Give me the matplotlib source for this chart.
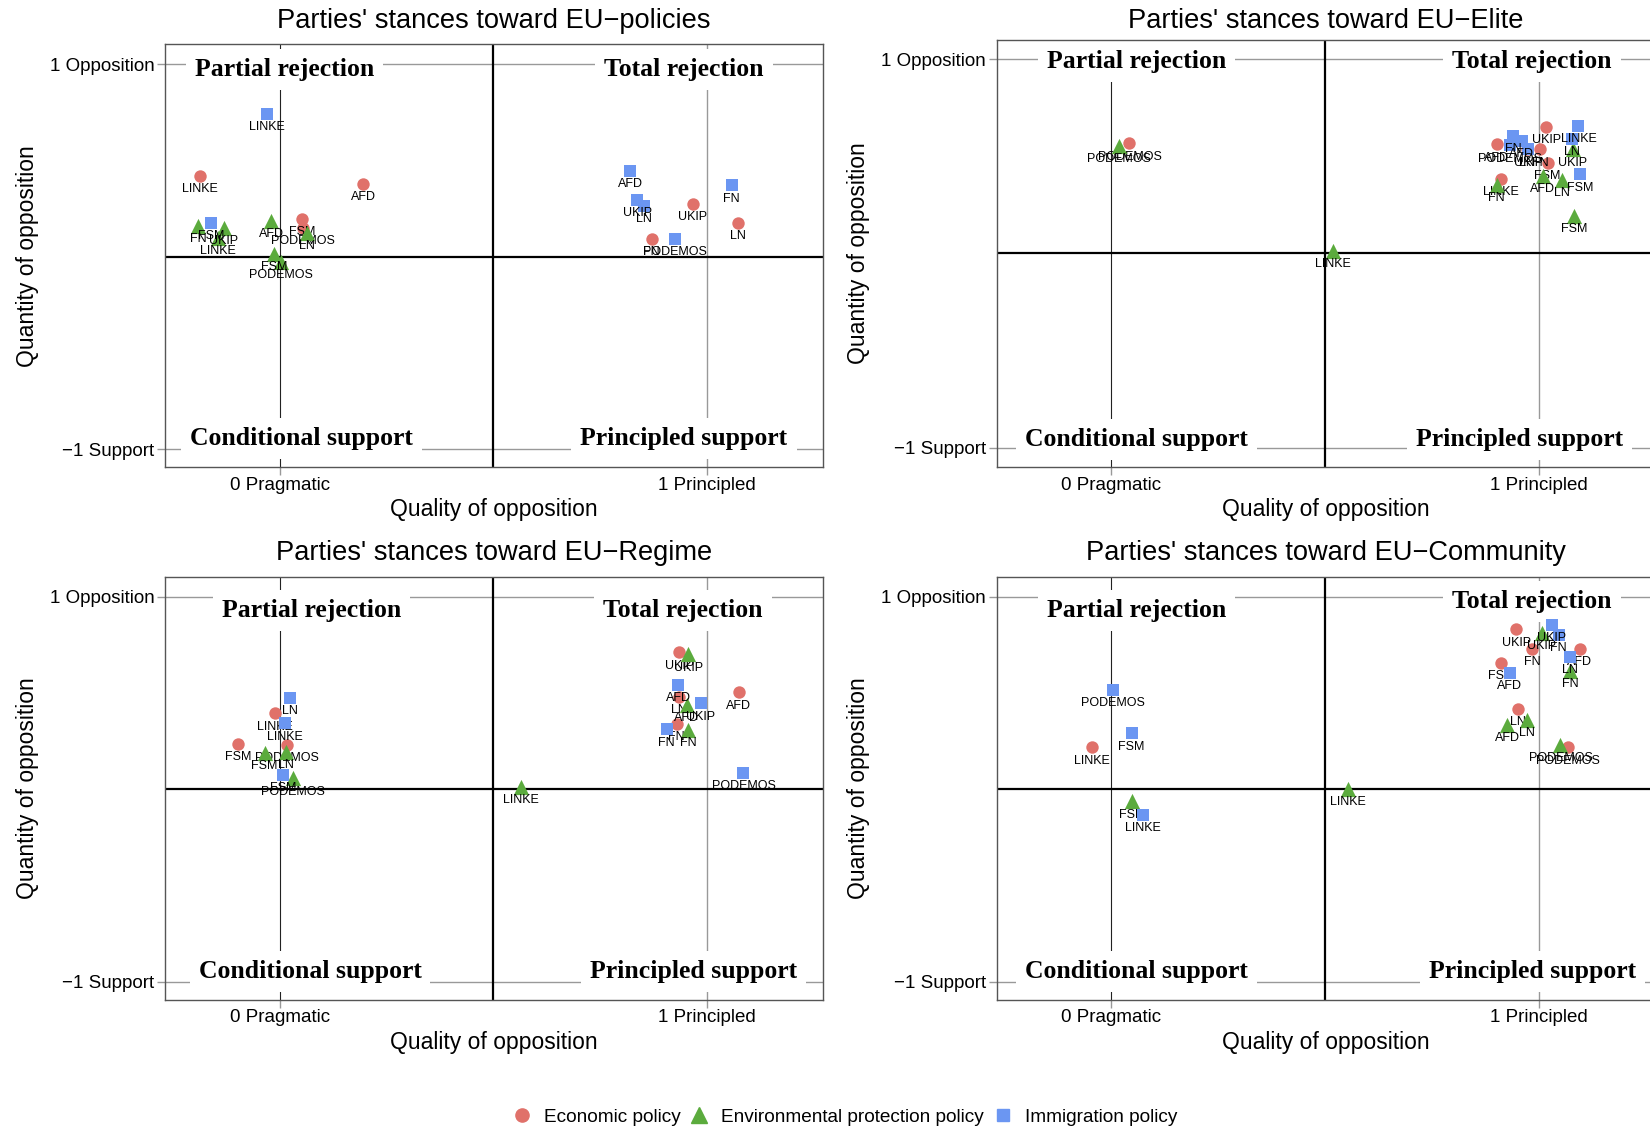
import matplotlib
matplotlib.use('Agg')
import matplotlib.pyplot as plt
from matplotlib.lines import Line2D

plt.rcParams['font.family'] = ['Liberation Sans', 'DejaVu Sans']

# party order used by every series below
parties = ['AFD', 'FN', 'FSM', 'LINKE', 'LN', 'PODEMOS', 'UKIP']

# EU-policies
policies_econ_x = [0.196, 0.870, 0.053, -0.187, 1.072, 0.055, 0.966]
policies_econ_y = [0.377, 0.093, 0.195, 0.420, 0.176, 0.148, 0.273]
policies_env_x = [-0.019, -0.191, -0.013, -0.144, 0.063, 0.003, -0.130]
policies_env_y = [0.187, 0.160, 0.014, 0.096, 0.122, -0.025, 0.148]
policies_imm_x = [0.820, 1.057, -0.160, -0.030, 0.852, 0.924, 0.837]
policies_imm_y = [0.444, 0.371, 0.174, 0.743, 0.263, 0.092, 0.294]

# EU-Elite
elite_econ_x = [0.902, 1.004, 1.021, 0.911, 0.972, 0.043, 1.018]
elite_econ_y = [0.561, 0.535, 0.466, 0.385, 0.535, 0.566, 0.652]
elite_env_x = [1.010, 0.902, 1.083, 0.518, 1.054, 0.019, 1.080]
elite_env_y = [0.397, 0.354, 0.194, 0.012, 0.380, 0.553, 0.535]
elite_imm_x = [0.961, 0.941, 1.097, 1.093, 1.078, 0.933, 0.976]
elite_imm_y = [0.578, 0.603, 0.406, 0.655, 0.590, 0.556, 0.535]

# EU-Regime
regime_econ_x = [1.074, 0.929, -0.097, -0.011, 0.935, 0.017, 0.935]
regime_econ_y = [0.503, 0.337, 0.235, 0.394, 0.480, 0.229, 0.711]
regime_env_x = [0.952, 0.956, -0.035, 0.565, 0.014, 0.032, 0.956]
regime_env_y = [0.437, 0.310, 0.190, 0.010, 0.195, 0.056, 0.700]
regime_imm_x = [0.933, 0.905, 0.008, 0.012, 0.024, 1.085, 0.985]
regime_imm_y = [0.541, 0.311, 0.074, 0.342, 0.475, 0.083, 0.446]

# EU-Community
community_econ_x = [1.096, 0.985, 0.912, -0.045, 0.951, 1.068, 0.948]
community_econ_y = [0.727, 0.727, 0.657, 0.217, 0.415, 0.217, 0.830]
community_env_x = [0.926, 1.073, 0.050, 0.554, 0.973, 1.051, 1.008]
community_env_y = [0.335, 0.616, -0.064, 0.000, 0.361, 0.230, 0.810]
community_imm_x = [0.932, 1.047, 0.048, 0.075, 1.073, 0.004, 1.031]
community_imm_y = [0.605, 0.800, 0.290, -0.134, 0.689, 0.517, 0.853]

titles = ["Parties' stances toward EU\u2212policies", "Parties' stances toward EU\u2212Elite",
          "Parties' stances toward EU\u2212Regime", "Parties' stances toward EU\u2212Community"]
series_names = ['Economic policy', 'Environmental protection policy', 'Immigration policy']
quad_names = ['Partial rejection', 'Total rejection', 'Conditional support', 'Principled support']

panels = [
    [(policies_econ_x, policies_econ_y), (policies_env_x, policies_env_y), (policies_imm_x, policies_imm_y)],
    [(elite_econ_x, elite_econ_y), (elite_env_x, elite_env_y), (elite_imm_x, elite_imm_y)],
    [(regime_econ_x, regime_econ_y), (regime_env_x, regime_env_y), (regime_imm_x, regime_imm_y)],
    [(community_econ_x, community_econ_y), (community_env_x, community_env_y), (community_imm_x, community_imm_y)],
]

colors = ['#e0716a', '#5bab3d', '#6b96f2']
markers = ['o', '^', 's']
sizes = [80, 120, 85]

# layout
positions = [[0.1, 0.58655, 0.39879, 0.37434], [0.60394, 0.58655, 0.39879, 0.37805],
             [0.1, 0.11531, 0.39879, 0.37434], [0.60394, 0.11531, 0.39879, 0.37434]]
ylims = [(-1.093, 1.104), (-1.10, 1.098), (-1.094, 1.104), (-1.094, 1.104)]
title_pads = [12, 9, 12, 12]
quad_pos = [
    [(0.012, 0.975), (0.946, 0.975), (0.052, -0.945), (0.946, -0.945)],
    [(0.059, 0.985), (0.985, 0.985), (0.059, -0.955), (0.956, -0.955)],
    [(0.074, 0.93), (0.943, 0.93), (0.071, -0.95), (0.968, -0.95)],
    [(0.059, 0.93), (0.985, 0.975), (0.059, -0.95), (0.985, -0.95)],
]

fig = plt.figure(figsize=(16.5, 11.3), dpi=100)

for k in range(4):
    ax = fig.add_axes(positions[k])
    ax.set_xlim(-0.268, 1.271)
    ax.set_ylim(*ylims[k])

    ax.axvline(0, color='#222222', lw=0.8, zorder=1)
    ax.axvline(1, color='#999999', lw=1.0, zorder=1)
    ax.axhline(1, color='#999999', lw=1.0, zorder=1)
    ax.axhline(-1, color='#999999', lw=1.0, zorder=1)
    ax.axvline(0.5, color='black', lw=1.6, zorder=1.5)
    ax.axhline(0, color='black', lw=1.6, zorder=1.5)

    for (qx, qy), name in zip(quad_pos[k], quad_names):
        ax.text(qx, qy, name, ha='center', va='center', fontsize=18.5, fontweight='bold',
                family=['Liberation Serif', 'DejaVu Serif'], zorder=2,
                bbox=dict(boxstyle='square,pad=0.35', fc='white', ec='none'))

    for i, (xs, ys) in enumerate(panels[k]):
        ax.scatter(xs, ys, s=sizes[i], marker=markers[i], color=colors[i], lw=0, zorder=3 + i)
        for p, x, y in zip(parties, xs, ys):
            ax.annotate(p, (x, y), xytext=(0, -9.5), textcoords='offset points',
                        ha='center', va='center', fontsize=9, zorder=3.5 + i)

    ax.set_xticks([0, 1])
    ax.set_xticklabels(['0 Pragmatic', '1 Principled'])
    ax.set_yticks([-1, 1])
    ax.set_yticklabels(['\u22121 Support', '1 Opposition'])
    ax.tick_params(length=5.5, width=1, color='#999999', labelsize=13.5, pad=2)
    ax.tick_params(axis='x', pad=1.5)
    for sp in ax.spines.values():
        sp.set_color('#555555')
        sp.set_linewidth(1.0)

    ax.set_title(titles[k], fontsize=19.6, pad=title_pads[k])
    ax.set_xlabel('Quality of opposition', fontsize=16.5, labelpad=3)
    ax.set_ylabel('Quantity of opposition', fontsize=16.5, labelpad=8)

handles = [Line2D([], [], ls='', marker=markers[i], color=colors[i], ms=[9.5, 12, 9][i])
           for i in range(3)]
fig.legend(handles, series_names, loc='center', bbox_to_anchor=(0.5114, 0.0115), ncol=3,
           frameon=False, fontsize=13.7, handletextpad=0.55, columnspacing=0.4, handlelength=1.2)

fig.savefig('out.png', dpi=100)
